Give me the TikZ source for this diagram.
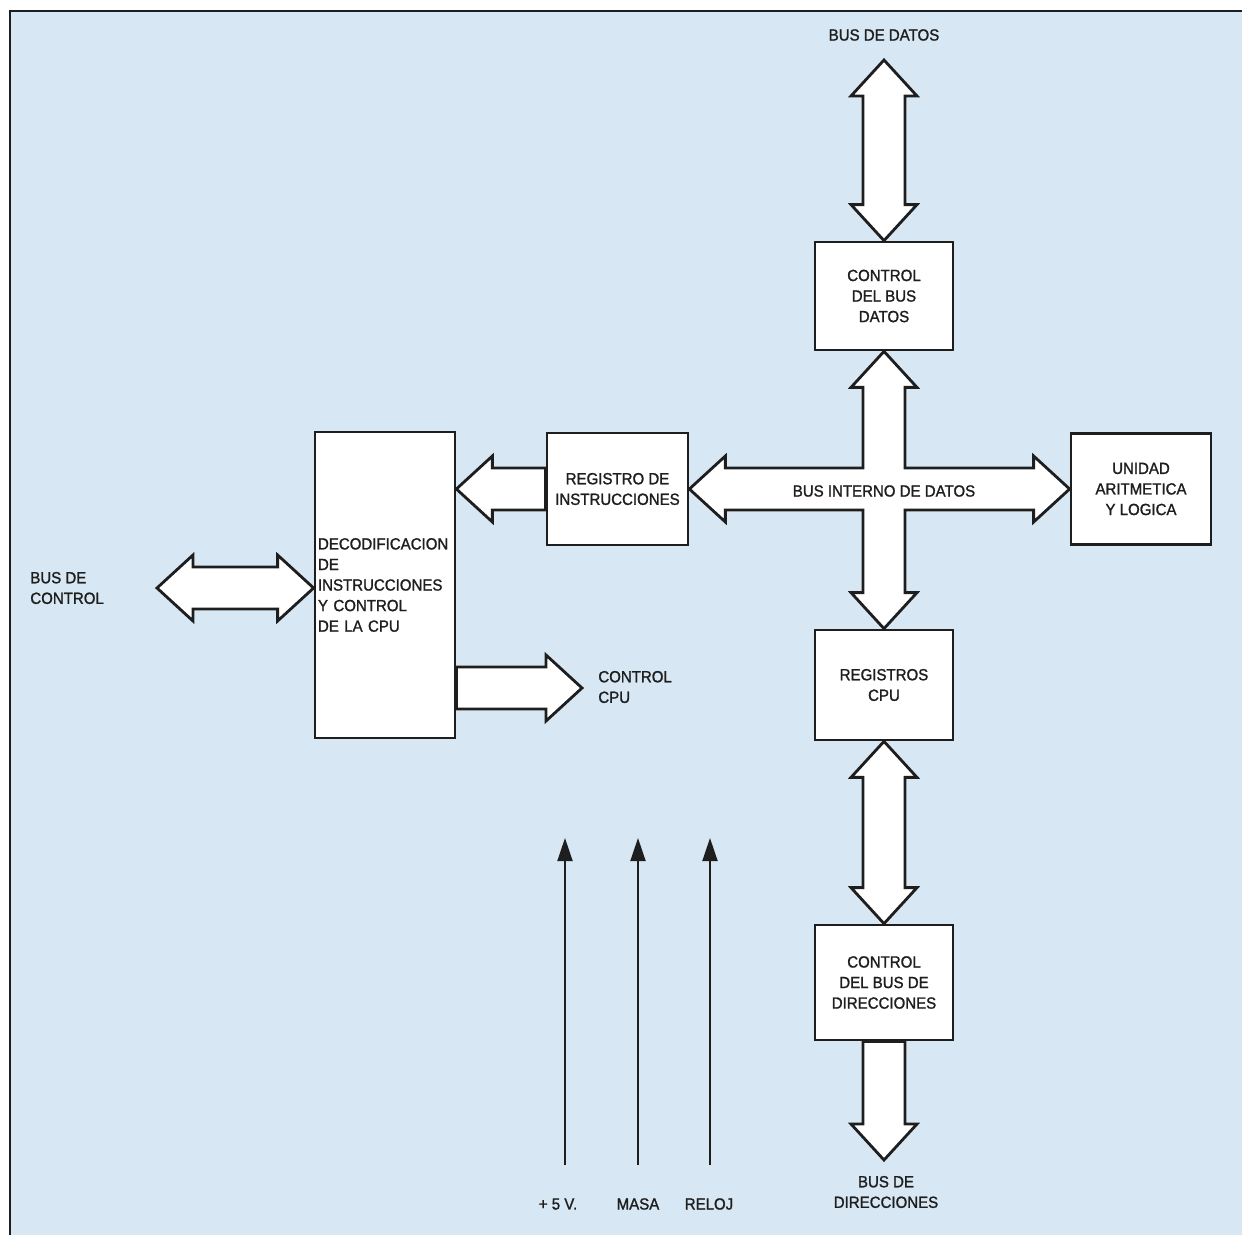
\documentclass[tikz,border=0pt]{standalone}
\usepackage{fontspec}
\setmainfont{Liberation Sans}
\newfontfamily\diagfont{Liberation Sans}[FakeBold=1.3,FakeStretch=0.93]
\usetikzlibrary{calc,arrows.meta}
\definecolor{paper}{RGB}{215,231,243}
\definecolor{ink}{RGB}{30,30,30}

\begin{document}
\begin{tikzpicture}[x=0.02cm,y=-0.02cm]
		\tikzset{block/.style = {draw=ink, fill=white, line width=1.6pt, inner sep=0pt, align=center, text=ink, font=\diagfont\fontsize{9.2}{11.7}\selectfont}}
		\tikzset{txt/.style = {inner sep=0pt, text=ink, font=\diagfont\fontsize{9.2}{11.7}\selectfont}}
		\tikzset{fat/.style = {draw=ink, fill=white, line width=1.6pt, line join=miter}}
		\tikzset{sig/.style = {draw=ink, line width=1.1pt, -{Triangle[length=0.46cm,width=0.3cm]}}}
		% single fat arrow, tip at the target
		\tikzset{sbus/.style = {fat, to path={
			-- ($(\tikztostart)!0.42cm!90:(\tikztotarget)$)
			-- ($(\tikztotarget)!0.72cm!(\tikztostart)!0.42cm!-90:(\tikztostart)$)
			-- ($(\tikztotarget)!0.72cm!(\tikztostart)!0.66cm!-90:(\tikztostart)$)
			-- (\tikztotarget)
			-- ($(\tikztotarget)!0.72cm!(\tikztostart)!0.66cm!90:(\tikztostart)$)
			-- ($(\tikztotarget)!0.72cm!(\tikztostart)!0.42cm!90:(\tikztostart)$)
			-- ($(\tikztostart)!0.42cm!-90:(\tikztotarget)$)
			-- cycle}}}
		% double fat arrow, tips at both ends
		\tikzset{dbus/.style = {fat, to path={
			-- ($(\tikztostart)!0.72cm!(\tikztotarget)!0.66cm!90:(\tikztotarget)$)
			-- ($(\tikztostart)!0.72cm!(\tikztotarget)!0.42cm!90:(\tikztotarget)$)
			-- ($(\tikztotarget)!0.72cm!(\tikztostart)!0.42cm!-90:(\tikztostart)$)
			-- ($(\tikztotarget)!0.72cm!(\tikztostart)!0.66cm!-90:(\tikztostart)$)
			-- (\tikztotarget)
			-- ($(\tikztotarget)!0.72cm!(\tikztostart)!0.66cm!90:(\tikztostart)$)
			-- ($(\tikztotarget)!0.72cm!(\tikztostart)!0.42cm!90:(\tikztostart)$)
			-- ($(\tikztostart)!0.72cm!(\tikztotarget)!0.42cm!-90:(\tikztotarget)$)
			-- ($(\tikztostart)!0.72cm!(\tikztotarget)!0.66cm!-90:(\tikztotarget)$)
			-- cycle}}}
		
		\useasboundingbox (0,0) rectangle (1242,1235);
		\fill[white] (0,0) rectangle (1242,1235);
		\fill[paper] (10,11) rectangle (1242,1235);
		\draw[ink, line width=1.6pt] (1242,11) -- (10,11) -- (10,1235);
		
		\node[block, minimum width=2.76cm, minimum height=2.16cm] (cdb)  at ( 884,  296) {CONTROL\\DEL BUS\\DATOS};
		\node[block, minimum width=2.82cm, minimum height=2.24cm] (ri)   at (617.5, 489) {REGISTRO DE\\INSTRUCCIONES};
		\node[block, minimum width=2.80cm, minimum height=2.22cm] (alu)  at (1141,  489) {UNIDAD\\ARITMETICA\\Y LOGICA};
		\node[block, minimum width=2.76cm, minimum height=2.20cm] (regs) at ( 884,  685) {REGISTROS\\CPU};
		\node[block, minimum width=2.76cm, minimum height=2.30cm] (cdd)  at ( 884,982.5) {CONTROL\\DEL BUS DE\\DIRECCIONES};
		\node[block, align=left, text width=2.68cm, inner xsep=0.06cm, minimum height=6.12cm] (dec) at (385, 585)
			{DECODIFICACION\\DE\\INSTRUCCIONES\\Y CONTROL\\DE LA CPU};
		
		\coordinate (dtop) at (884,   60);
		\coordinate (abot) at (884, 1160);
		\coordinate (ctl)  at (157,  588);
		\coordinate (cpu)  at (582,  688);
		\coordinate (decr) at (dec.east |- ri.west);
		\coordinate (decl) at (dec.west |- ctl);
		\coordinate (decc) at (dec.east |- cpu);
		
		\draw[dbus] (dtop) to (cdb.north);
		\draw[dbus] (regs.south) to (cdd.north);
		\draw[sbus] (cdd.south) to (abot);
		\draw[sbus] (ri.west) to (decr);
		\draw[dbus] (ctl) to (decl);
		\draw[sbus] (decc) to (cpu);
		
		% internal data bus: one cross-shaped outline
		\draw[fat] (cdb.south) -- ++(33,36) -- ++(-12,0) |- ($(alu.west)+(-36,-21)$) -- ++(0,-12)
			-- (alu.west) -- ++(-36,33) -- ++(0,-12) -| ($(regs.north)+(21,-36)$) -- ++(12,0)
			-- (regs.north) -- ++(-33,-36) -- ++(12,0) |- ($(ri.east)+(36,21)$) -- ++(0,12)
			-- (ri.east) -- ++(36,-33) -- ++(0,12) -| ($(cdb.south)+(-21,36)$) -- ++(-12,0) -- cycle;
		
		\node[txt] (bd) at (884, 35) {BUS DE DATOS};
		\node[txt] (bi) at (884, 491) {BUS INTERNO DE DATOS};
		\node[txt, align=left, anchor=west] (bc) at (30, 588) {BUS DE\\CONTROL};
		\node[txt, align=left, anchor=west] (cc) at (598, 687) {CONTROL\\CPU};
		\node[txt, align=center] (bdir) at (886, 1192) {BUS DE\\DIRECCIONES};
		
		\node[txt] (v5)    at (558, 1204) {+ 5 V.};
		\node[txt] (masa)  at (638, 1204) {MASA};
		\node[txt] (reloj) at (709, 1204) {RELOJ};
		
		\coordinate (v5b) at (565, 1165);  \coordinate (v5t) at (565, 838);
		\coordinate (mab) at (638, 1165);  \coordinate (mat) at (638, 838);
		\coordinate (reb) at (710, 1165);  \coordinate (ret) at (710, 838);
		\draw[sig] (v5b) to (v5t);
		\draw[sig] (mab) to (mat);
		\draw[sig] (reb) to (ret);
		\end{tikzpicture}
\end{document}
